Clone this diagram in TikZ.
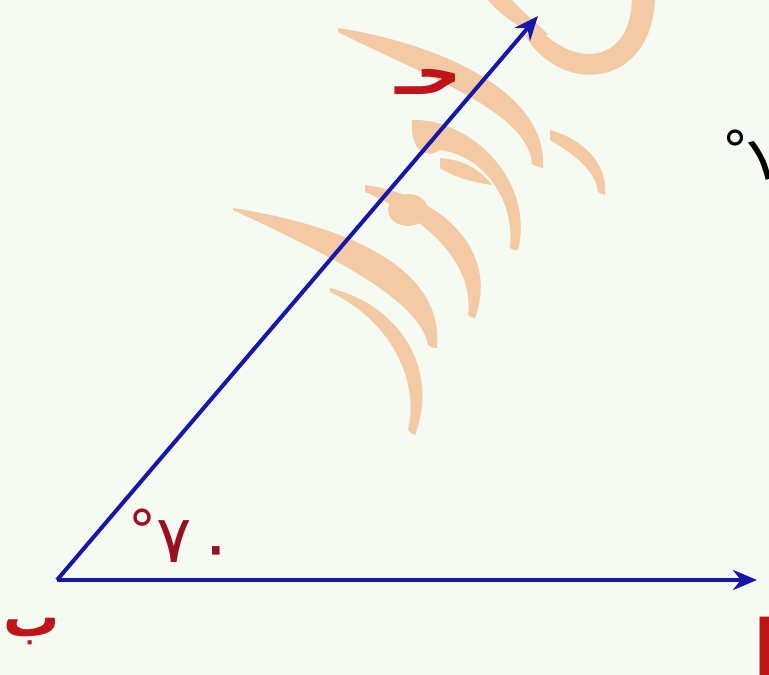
\documentclass[tikz,border=0pt]{standalone}
\usepackage{fontspec}
\newfontfamily\arabicfont[Script=Arabic]{DejaVu Sans}
\TeXXeTstate=1
\usetikzlibrary{arrows.meta}
\definecolor{bgc}{HTML}{F5FAF2}
\definecolor{wmc}{HTML}{F4CAA4}
\definecolor{vecblue}{HTML}{1616A8}
\definecolor{labred}{HTML}{C01418}
\definecolor{degred}{HTML}{9A1020}
\newcommand{\fsz}[1]{\fontsize{#1}{#1}\selectfont}
\tikzset{
  wm/.style={fill=wmc},
  vec/.style={draw=vecblue, line width=4pt, -{Stealth[length=24pt,width=20pt]}},
  lab/.style={text=labred, font=\arabicfont\bfseries\fsz{56}, inner sep=0pt},
  anglab/.style={text=degred, font=\arabicfont, inner sep=0pt},
  blacklab/.style={text=black, font=\arabicfont, inner sep=0pt}
}
\begin{document}
\begin{tikzpicture}[x=1pt,y=-1pt]
\fill[bgc] (0,0) rectangle (769,675);
\useasboundingbox (0,0) rectangle (769,675);
% watermark
\fill[wm] (338,28) .. controls (430,42) and (548,88) .. (543,168) .. controls (538,167) and (535,166) .. (532,164) .. controls (528,112) and (430,78) .. (338,32) -- cycle;
\fill[wm] (550,130) .. controls (585,140) and (608,165) .. (605,195) .. controls (602,194) and (600,193) .. (598,192) .. controls (595,170) and (575,155) .. (550,140) -- cycle;
\fill[wm] (412,120) .. controls (470,118) and (535,180) .. (518,250) .. controls (515,250) and (512,250) .. (510,248) .. controls (515,195) and (480,155) .. (440,150) .. controls (425,160) and (410,150) .. (412,120) -- cycle;
\fill[wm] (440,158) .. controls (465,160) and (480,170) .. (492,185) .. controls (470,182) and (452,176) .. (440,168) -- cycle;
\fill[wm] (365,185) .. controls (440,195) and (500,250) .. (475,318) .. controls (472,318) and (470,317) .. (468,315) .. controls (475,260) and (420,215) .. (365,192) -- cycle;
\fill[wm] (408,210) ellipse [x radius=20, y radius=16];
\fill[wm] (233,208) .. controls (340,225) and (445,265) .. (437,348) .. controls (433,348) and (430,347) .. (428,345) .. controls (420,300) and (330,255) .. (233,210) -- cycle;
\fill[wm] (330,288) .. controls (400,305) and (440,370) .. (415,435) .. controls (412,434) and (410,432) .. (408,430) .. controls (420,380) and (390,320) .. (330,292) -- cycle;
\fill[wm] (525,35) .. controls (560,95) and (650,90) .. (655,0) -- (632,0) .. controls (630,60) and (580,70) .. (540,30) -- cycle;
\fill[wm] (488,0) -- (512,0) .. controls (525,15) and (540,25) .. (548,35) .. controls (530,35) and (505,20) .. (488,0) -- cycle;
% vectors
\coordinate (B) at (57,580);
\coordinate (C) at (538,16);
\coordinate (A) at (757,580);
\draw[vec] (B) -- (C);
\draw[vec] (B) -- (A);
% labels
\node[lab] (lb) at (32,632) {\beginR ب\endR};
\node[lab, font=\arabicfont\bfseries\fsz{62}] (lc) at (428,82) {\beginR حـ\endR};
\node[anglab, anchor=base west] (ang) at (128,562) {\raisebox{12pt}{\fsz{56}°}\hspace{0pt}{\fsz{66}٧}\hspace{6pt}\raisebox{-8pt}{\fsz{70}٠}};
\node[blacklab, anchor=base west] (top) at (722,184) {\raisebox{16pt}{\fsz{52}°}\hspace{-8pt}\rotatebox{15}{\fsz{64}١}};
\node[lab, anchor=north west, font=\arabicfont\bfseries\fsz{90}] (la) at (752,617) {ا};
\end{tikzpicture}
\end{document}
